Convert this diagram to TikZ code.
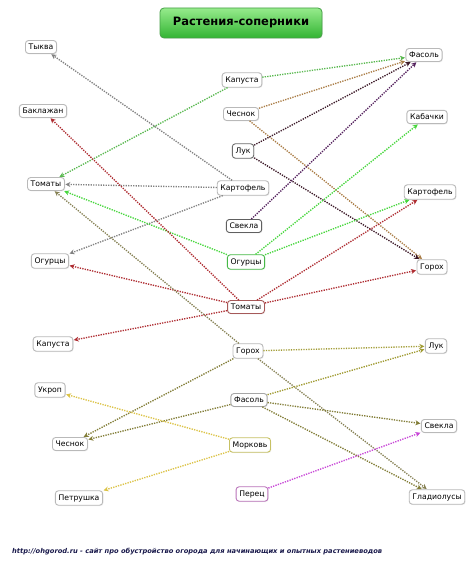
\documentclass[tikz,border=0pt]{standalone}
\usepackage{fontspec}
\setmainfont{DejaVu Sans}
\usetikzlibrary{arrows.meta,shadows}
\definecolor{tgtop}{RGB}{150,235,140}
\definecolor{tgbot}{RGB}{50,180,50}
\definecolor{tgbord}{RGB}{70,160,70}
\definecolor{cgreenA}{RGB}{90,185,80}
\definecolor{cgreenB}{RGB}{70,215,60}
\definecolor{ctan}{RGB}{170,125,70}
\definecolor{cdark}{RGB}{60,25,40}
\definecolor{cpurd}{RGB}{85,35,95}
\definecolor{cgray}{RGB}{130,130,130}
\definecolor{cred}{RGB}{175,45,50}
\definecolor{colivg}{RGB}{135,130,85}
\definecolor{coliv}{RGB}{130,125,55}
\definecolor{colivy}{RGB}{160,155,50}
\definecolor{cyel}{RGB}{220,195,70}
\definecolor{cmag}{RGB}{200,70,215}
\definecolor{cfoot}{RGB}{25,25,75}
\tikzset{
  plant/.style={draw=gray!55, line width=0.9pt, rounded corners=3pt, fill=white,
    inner xsep=3.2pt, inner ysep=3.6pt, font=\fontsize{7.7}{9}\selectfont,
    drop shadow={opacity=0.12, shadow xshift=0.8pt, shadow yshift=-0.8pt}},
  link/.style={line width=1.35pt, dash pattern=on 1.3pt off 1.2pt,
    -{Stealth[length=5pt,width=5pt]}, shorten >=0.5pt}
}
\begin{document}
\begin{tikzpicture}[x=1pt,y=-1pt]
\useasboundingbox (0,0) rectangle (474,569);
\fill[white] (0,0) rectangle (474,569);
% title
\node[draw=tgbord, line width=0.8pt, rounded corners=4pt, top color=tgtop, bottom color=tgbot,
  minimum width=162pt, minimum height=30pt, font=\bfseries\fontsize{11.5}{13}\selectfont,
  drop shadow={opacity=0.15, shadow xshift=0.8pt, shadow yshift=-0.8pt}] (title) at (241,23) {Растения-соперники};
% left column
\node[plant] (tykva) at (41,47) {Тыква};
\node[plant] (bakl) at (43,111) {Баклажан};
\node[plant] (tomL) at (46,184) {Томаты};
\node[plant] (ogurL) at (50,261) {Огурцы};
\node[plant] (kapL) at (53,344) {Капуста};
\node[plant] (ukrop) at (50,390) {Укроп};
\node[plant] (chesL) at (70,444) {Чеснок};
\node[plant] (petr) at (79,498) {Петрушка};
% middle column
\node[plant] (kapM) at (242,80) {Капуста};
\node[plant] (chesM) at (241,114) {Чеснок};
\node[plant, draw=gray!85!black] (lukM) at (243,151) {Лук};
\node[plant] (kartM) at (243,188) {Картофель};
\node[plant, draw=gray!75!black] (svekM) at (244,226) {Свекла};
\node[plant, draw=green!45!gray] (ogurM) at (246,262) {Огурцы};
\node[plant, draw=red!30!gray] (tomM) at (246,307) {Томаты};
\node[plant] (gorM) at (248,351) {Горох};
\node[plant, draw=gray!70] (fasM) at (249,400) {Фасоль};
\node[plant, draw=yellow!50!gray] (mork) at (250,445) {Морковь};
\node[plant, draw=violet!55!white] (perec) at (252,494) {Перец};
% right column
\node[plant] (fasR) at (424,55) {Фасоль};
\node[plant] (kab) at (427,117) {Кабачки};
\node[plant] (kartR) at (430,192) {Картофель};
\node[plant] (gorR) at (432,267) {Горох};
\node[plant] (lukR) at (436,346) {Лук};
\node[plant] (svekR) at (439,426) {Свекла};
\node[plant] (glad) at (437,497) {Гладиолусы};
% connectors
\draw[link, cgreenA] (kapM) -- (fasR);
\draw[link, cgreenA] (kapM) -- (tomL);
\draw[link, ctan] (chesM) -- (fasR);
\draw[link, ctan] (chesM) -- (gorR);
\draw[link, cdark] (lukM) -- (fasR);
\draw[link, cdark] (lukM) -- (gorR);
\draw[link, cgray] (kartM) -- (tomL);
\draw[link, cgray] (kartM) -- (tykva);
\draw[link, cgray] (kartM) -- (ogurL);
\draw[link, cpurd] (svekM) -- (fasR);
\draw[link, cgreenB] (ogurM) -- (tomL);
\draw[link, cgreenB] (ogurM) -- (kab);
\draw[link, cgreenB] (ogurM) -- (kartR);
\draw[link, cred] (tomM) -- (bakl);
\draw[link, cred] (tomM) -- (ogurL);
\draw[link, cred] (tomM) -- (kapL);
\draw[link, cred] (tomM) -- (kartR);
\draw[link, cred] (tomM) -- (gorR);
\draw[link, colivg] (gorM) -- (tomL);
\draw[link, colivy] (gorM) -- (lukR);
\draw[link, coliv] (gorM) -- (chesL);
\draw[link, colivg] (gorM) -- (glad);
\draw[link, colivy] (fasM) -- (lukR);
\draw[link, coliv] (fasM) -- (svekR);
\draw[link, coliv] (fasM) -- (glad);
\draw[link, coliv] (fasM) -- (chesL);
\draw[link, cyel] (mork) -- (ukrop);
\draw[link, cyel] (mork) -- (petr);
\draw[link, cmag] (perec) -- (svekR);
% footer
\node[anchor=west, inner sep=0pt, text=cfoot, font=\bfseries\itshape\fontsize{6.7}{8}\selectfont] (foot) at (12,552) {http://ohgorod.ru - сайт про обустройство огорода для начинающих и опытных растениеводов};
\end{tikzpicture}
\end{document}
